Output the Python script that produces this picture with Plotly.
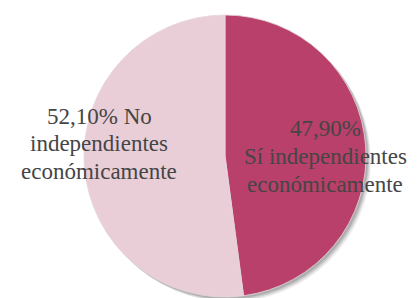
import plotly.graph_objects as go

# Data
categories = ["Sí independientes económicamente", "No independientes económicamente"]
values = [47.90, 52.10]
label_lines = [["47,90%", "Sí independientes", "económicamente"],
               ["52,10% No", "independientes", "económicamente"]]
colors = ["#B8406A", "#E9CED8"]

W, H = 417, 298
cx, cy, r = 225, 156, 141

fig = go.Figure()
fig.add_trace(go.Pie(
    labels=categories,
    values=values,
    sort=False,
    direction="clockwise",
    rotation=0,
    textinfo="none",
    hoverinfo="label+percent",
    marker=dict(colors=colors, line=dict(color="#e6d6dc", width=0.8)),
    domain=dict(x=[(cx - r) / W, (cx + r) / W], y=[(H - cy - r) / H, (H - cy + r) / H]),
    showlegend=False,
))

# soft shadow behind pie
for off, op in [(5, 0.06), (4, 0.08), (3, 0.10), (2, 0.12)]:
    fig.add_shape(type="circle", xref="paper", yref="paper", layer="below",
                  x0=(cx - r + off) / W, x1=(cx + r + off) / W,
                  y0=(H - cy - r - off) / H, y1=(H - cy + r - off) / H,
                  fillcolor=f"rgba(0,0,0,{op})", line=dict(width=0))

# label block positions (center x, first-line y, line spacing) in pixels
label_pos = [(325, 128, 28), (99, 116, 27.5)]
for lines, (lx, ly, dy) in zip(label_lines, label_pos):
    for i, line in enumerate(lines):
        fig.add_annotation(x=lx / W, y=(H - (ly + i * dy)) / H, xref="paper", yref="paper",
                           text=line, showarrow=False, xanchor="center", yanchor="middle",
                           font=dict(family="Liberation Serif, Times New Roman, serif",
                                     size=23, color="#454545"))

fig.update_layout(width=W, height=H, margin=dict(l=0, r=0, t=0, b=0),
                  paper_bgcolor="white", plot_bgcolor="white")
fig.write_html("out.html", config={"displayModeBar": False},
               post_script="document.body.style.margin='0';")
